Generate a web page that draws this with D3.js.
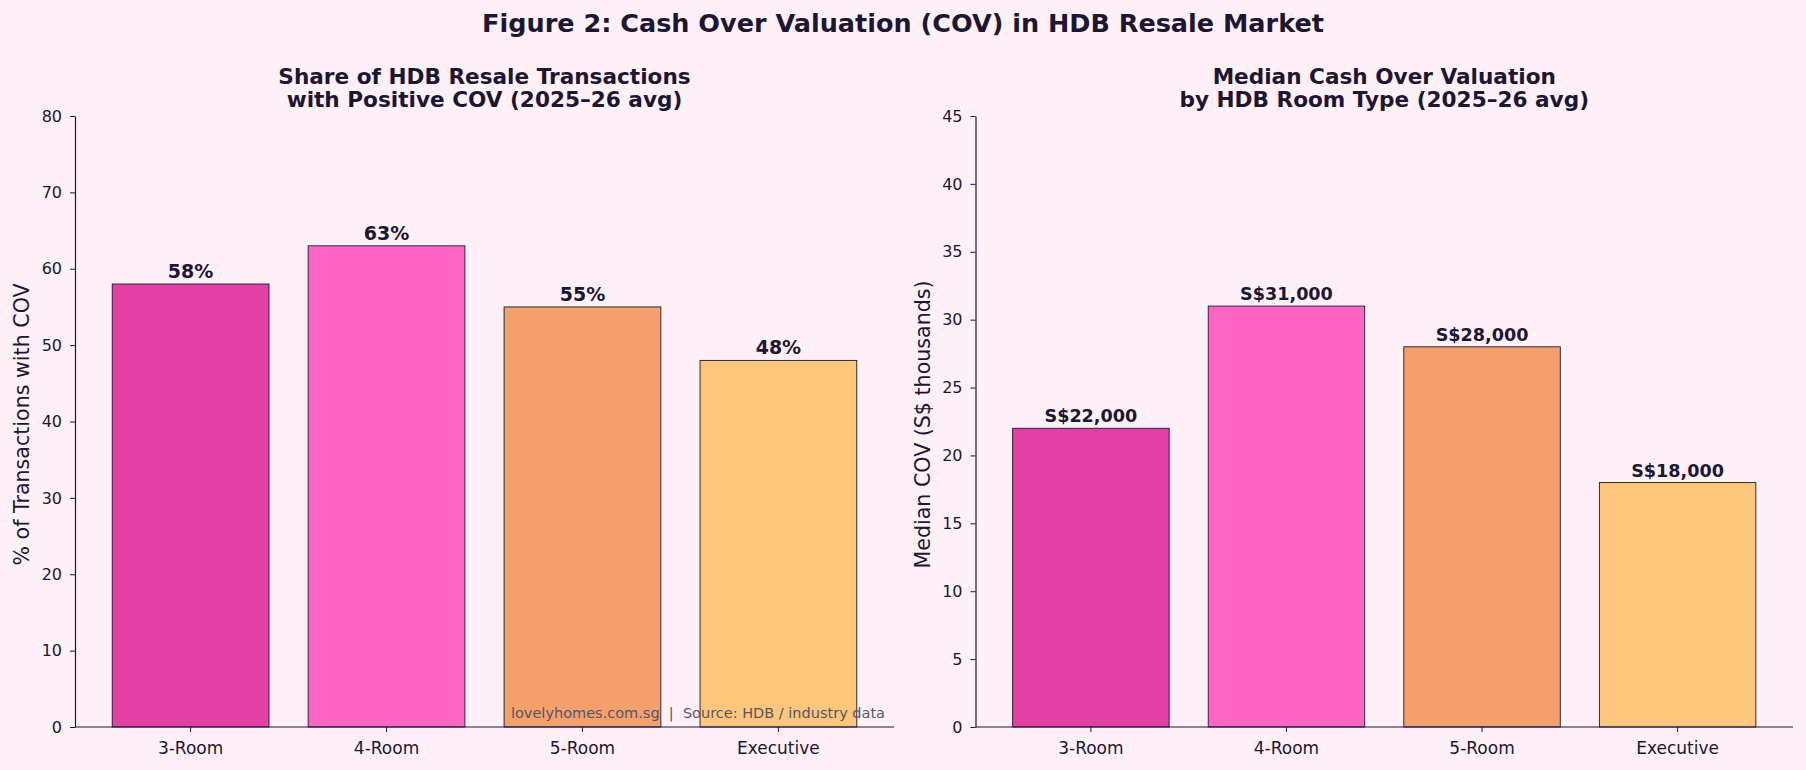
<!DOCTYPE html>
<html>
<head>
<meta charset="utf-8">
<script src="https://cdn.jsdelivr.net/npm/d3@7"></script>
<style>
  html, body { margin: 0; padding: 0; background: #FFF0F8; }
  svg { display: block; font-family: "DejaVu Sans", sans-serif; }
</style>
</head>
<body>
<script>
const categories = ["3-Room", "4-Room", "5-Room", "Executive"];
const shareValues = [58, 63, 55, 48];
const covValues = [22, 31, 28, 18];
const covLabels = ["S$22,000", "S$31,000", "S$28,000", "S$18,000"];
const shareTicks = [0, 10, 20, 30, 40, 50, 60, 70, 80];
const covTicks = [0, 5, 10, 15, 20, 25, 30, 35, 40, 45];
const barColors = ["#E440A4", "#FF66C4", "#F4A06C", "#FDC67A"];

const W = 1806, H = 770;
const ink = "#1C1633";
const svg = d3.select("body").append("svg").attr("width", W).attr("height", H);
svg.append("rect").attr("width", W).attr("height", H).attr("fill", "#FFF0F8");

svg.append("text").attr("x", 903).attr("y", 32).attr("text-anchor", "middle")
  .attr("font-size", 25.5).attr("font-weight", "bold").attr("fill", ink)
  .text("Figure 2: Cash Over Valuation (COV) in HDB Resale Market");

const plotTop = 116, plotBottom = 727;

function panel(opts) {
  const { x0, x1, values, yMax, ticks, titleLines, ylabel, labels, labelSize } = opts;
  const g = svg.append("g");
  const x = d3.scaleBand().domain(categories).range([x0, x1]).paddingInner(0.2).paddingOuter(0.19);
  const y = d3.scaleLinear().domain([0, yMax]).range([plotBottom, plotTop]);

  g.selectAll("rect.bar").data(values).join("rect").attr("class", "bar")
    .attr("x", (d, i) => x(categories[i]))
    .attr("width", x.bandwidth())
    .attr("y", d => y(d))
    .attr("height", d => y(0) - y(d))
    .attr("fill", (d, i) => barColors[i])
    .attr("stroke", ink).attr("stroke-width", 0.9);

  g.selectAll("text.vlab").data(values).join("text").attr("class", "vlab")
    .attr("x", (d, i) => x(categories[i]) + x.bandwidth() / 2)
    .attr("y", d => y(d) - 6)
    .attr("text-anchor", "middle").attr("font-weight", "bold")
    .attr("font-size", labelSize).attr("fill", ink)
    .text((d, i) => labels[i]);

  const ya = g.append("g").attr("transform", `translate(${x0},0)`)
    .call(d3.axisLeft(y).tickValues(ticks).tickSize(5).tickPadding(8).tickSizeOuter(0));
  ya.select(".domain").attr("stroke", ink).attr("stroke-width", 1.2);
  ya.selectAll(".tick line").attr("stroke", ink).attr("stroke-width", 1);
  ya.selectAll(".tick text").attr("font-size", 16).attr("fill", ink)
    .attr("font-family", "DejaVu Sans");

  const xa = g.append("g").attr("transform", `translate(0,${plotBottom})`)
    .call(d3.axisBottom(x).tickSize(5).tickPadding(10).tickSizeOuter(0));
  xa.select(".domain").attr("stroke", ink).attr("stroke-width", 1.2)
    .attr("d", `M${x0},0H${x1}`);
  xa.selectAll(".tick line").attr("stroke", ink).attr("stroke-width", 1);
  xa.selectAll(".tick text").attr("font-size", 17).attr("fill", ink)
    .attr("font-family", "DejaVu Sans");

  const cx = (x0 + x1) / 2;
  titleLines.forEach((t, i) => {
    g.append("text").attr("x", cx).attr("y", 83.5 + i * 23).attr("text-anchor", "middle")
      .attr("font-size", 21.6).attr("font-weight", "bold").attr("fill", ink).text(t);
  });

  g.append("text")
    .attr("transform", `translate(${x0 - 46},${(plotTop + plotBottom) / 2 + 3}) rotate(-90)`)
    .attr("text-anchor", "middle").attr("font-size", 20.6).attr("fill", ink)
    .text(ylabel);
}

panel({
  x0: 75, x1: 894, values: shareValues, yMax: 80, ticks: shareTicks,
  titleLines: ["Share of HDB Resale Transactions", "with Positive COV (2025\u201326 avg)"],
  ylabel: "% of Transactions with COV",
  labels: shareValues.map(v => v + "%"), labelSize: 19
});

panel({
  x0: 975.5, x1: 1793, values: covValues, yMax: 45, ticks: covTicks,
  titleLines: ["Median Cash Over Valuation", "by HDB Room Type (2025\u201326 avg)"],
  ylabel: "Median COV (S$ thousands)",
  labels: covLabels, labelSize: 17.6
});

svg.append("text").attr("x", 885).attr("y", 718).attr("text-anchor", "end")
  .attr("font-size", 14.5).attr("fill", "#5A5464")
  .attr("xml:space", "preserve")
  .text("lovelyhomes.com.sg  |  Source: HDB / industry data");
</script>
</body>
</html>
